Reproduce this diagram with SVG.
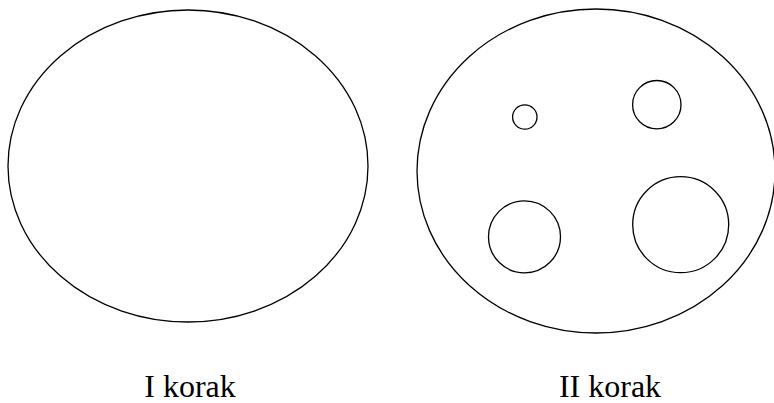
<svg xmlns="http://www.w3.org/2000/svg" width="774" height="403" viewBox="0 0 774 403">
<style>
.s{fill:none;stroke:#000;stroke-width:1.3}
.t{font-family:"Liberation Serif","Times New Roman",serif;font-size:32px;fill:#000;text-anchor:middle}
</style>
<rect width="774" height="403" fill="#fff"/>
<g id="step1">
<ellipse class="s" cx="188" cy="166" rx="180" ry="156"/>
<text class="t" x="190" y="397">I korak</text>
</g>
<g id="step2">
<ellipse class="s" cx="596" cy="171" rx="179" ry="162"/>
<circle class="s" cx="524.8" cy="117" r="12.2"/>
<circle class="s" cx="656.8" cy="104.7" r="24.2"/>
<circle class="s" cx="524.5" cy="236.8" r="36"/>
<circle class="s" cx="680.7" cy="224.7" r="48"/>
<text class="t" x="610" y="397">II korak</text>
</g>
</svg>
